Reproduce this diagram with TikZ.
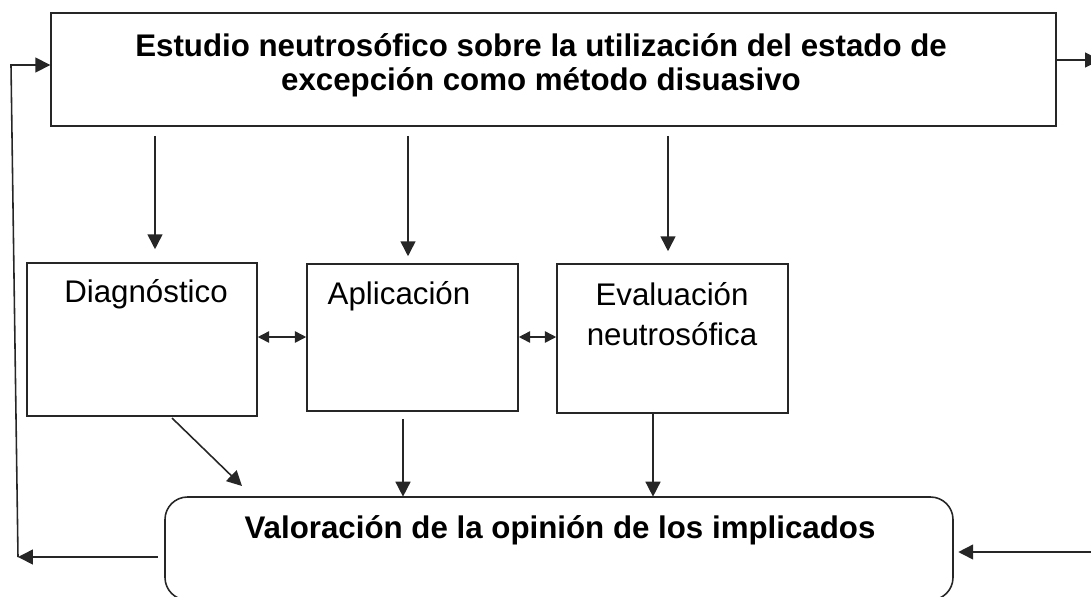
\documentclass[tikz,border=0pt]{standalone}
\usepackage{fontspec}
\setmainfont{Liberation Sans}
\usetikzlibrary{arrows.meta}
\begin{document}
\begin{tikzpicture}[x=0.02cm,y=-0.02cm,
  box/.style={draw=black!85, line width=0.9pt, inner sep=0pt},
  txt/.style={inner sep=0pt, font=\fontsize{17.8}{19.3}\selectfont, align=center},
  btxt/.style={txt, font=\fontsize{17.8}{19.3}\selectfont\bfseries},
  arr/.style={draw=black!85, line width=0.9pt, -{Triangle[length=8.5pt,width=8.5pt]}},
  darr/.style={draw=black!85, line width=0.9pt, {Triangle[length=6.5pt,width=6.5pt]}-{Triangle[length=6.5pt,width=6.5pt]}},
  ln/.style={draw=black!75, line width=0.7pt}]
\useasboundingbox (0,0) rectangle (1091,596);
% boxes
\node[box, minimum width=20.1cm, minimum height=2.26cm] (top) at (553.5,69.5) {};
\node[btxt] (toptxt) at (541,65) {Estudio neutrosófico sobre la utilización del estado de\\excepción como método disuasivo};
\node[box, minimum width=4.6cm, minimum height=3.06cm] (diag) at (142,339.5) {};
\node[txt] (diagtxt) at (146,294) {Diagnóstico};
\node[box, minimum width=4.22cm, minimum height=2.94cm] (apl) at (412.5,337.5) {};
\node[txt] (apltxt) at (399,296) {Aplicación};
\node[box, minimum width=4.62cm, minimum height=2.98cm] (eva) at (672.5,338.5) {};
\node[txt, font=\fontsize{17.8}{22.7}\selectfont] (evatxt) at (672,314) {Evaluación\\neutrosófica};
\draw[box, rounded corners=0.45cm] (165,497) rectangle (953,600);
\node[inner sep=0pt, minimum width=15.76cm, minimum height=2.06cm] (val) at (559,548.5) {};
\node[btxt] (valtxt) at (560,530) {Valoración de la opinión de los implicados};
% helper coordinates
\coordinate (x1) at (155,0);
\coordinate (x2) at (408,0);
\coordinate (x3) at (668,0);
\coordinate (x4) at (403,0);
\coordinate (x5) at (653,0);
\coordinate (ym) at (0,337);
\coordinate (lb) at (18,557);
\coordinate (lt) at (11,65);
\coordinate (rt) at (1100,60);
\coordinate (rb) at (1091,552);
\coordinate (dgs) at (172,418);
\coordinate (dge) at (242,486);
% down arrows
\draw[arr, shorten <=0.18cm, shorten >=0.26cm] (top.south -| x1) -- (diag.north -| x1);
\draw[arr, shorten <=0.18cm, shorten >=0.14cm] (top.south -| x2) -- (apl.north -| x2);
\draw[arr, shorten <=0.18cm, shorten >=0.24cm] (top.south -| x3) -- (eva.north -| x3);
% horizontal double arrows
\draw[darr] (diag.east |- ym) -- (apl.west |- ym);
\draw[darr] (apl.east |- ym) -- (eva.west |- ym);
% to bottom
\draw[arr] (dgs) -- (dge);
\draw[arr, shorten <=0.14cm] (apl.south -| x4) -- (val.north -| x4);
\draw[arr] (eva.south -| x5) -- (val.north -| x5);
% feedback loops
\draw[arr, shorten <=0.14cm] (val.west |- lb) -- (lb);
\draw[arr] (lb) -- (lt) -- (top.west |- lt);
\draw[arr] (top.east |- rt) -- (rt);
\draw[arr, shorten >=0.1cm] (rb) -- (val.east |- rb);
\end{tikzpicture}
\end{document}
